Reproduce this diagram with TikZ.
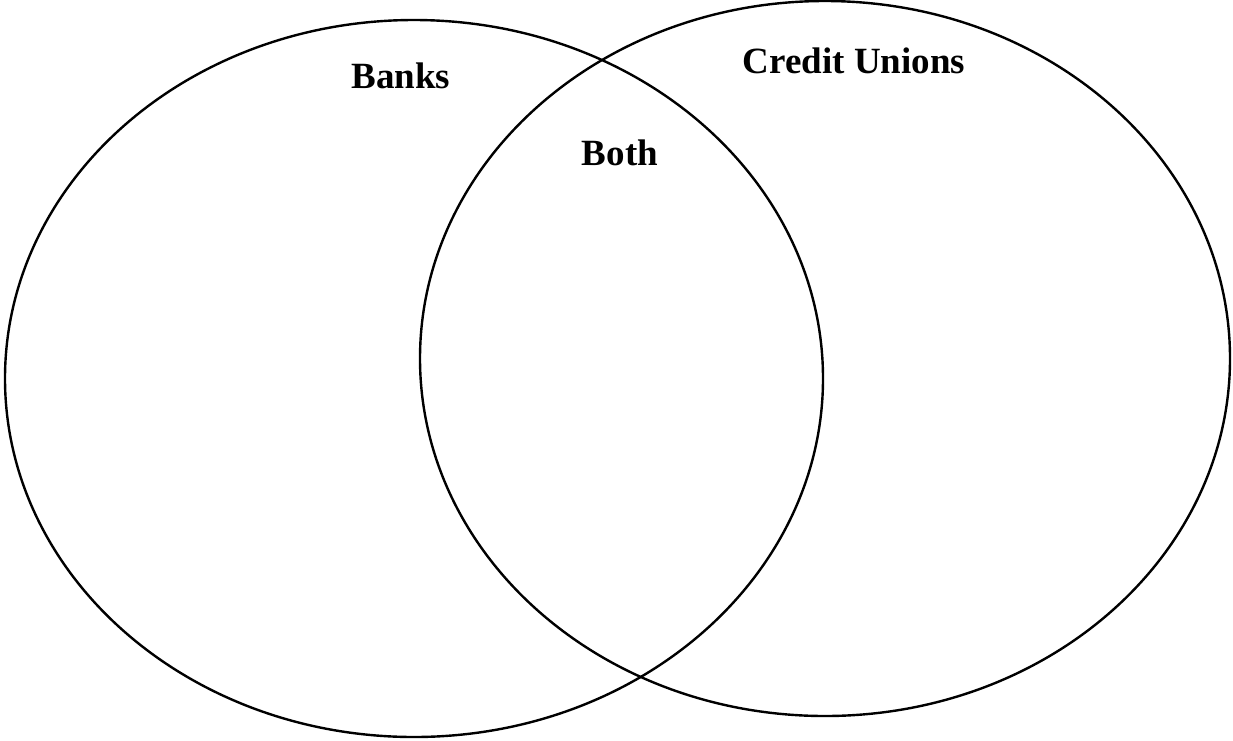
\documentclass[tikz,border=0pt]{standalone}
\usepackage{fontspec}
\setmainfont{Liberation Serif}
\begin{document}
\begin{tikzpicture}[x=1pt,y=-1pt,
  setring/.style={draw=black,line width=2.4pt},
  setlabel/.style={font=\fontsize{37}{40}\selectfont\bfseries,anchor=base,inner sep=0pt}]
\useasboundingbox (0,0) rectangle (1233,740);
% the two overlapping sets
\draw[setring] (414,378.5) ellipse [x radius=409, y radius=358.5];
\draw[setring] (825,358.5) ellipse [x radius=405, y radius=357.5];
% set labels
\node[setlabel] (banks) at (401,88) {Banks};
\node[setlabel] (both) at (620,165) {Both};
\node[setlabel] (cu) at (854,73) {Credit Unions};
\end{tikzpicture}
\end{document}
